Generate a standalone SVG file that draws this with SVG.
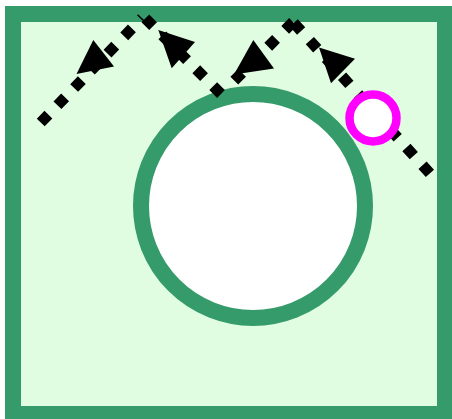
<svg xmlns="http://www.w3.org/2000/svg" width="452" height="419" viewBox="0 0 452 419">
<style>
.wall{fill:#e1fde1;stroke:#359b6a;stroke-width:16}
.mirror{fill:#ffffff;stroke:#359b6a;stroke-width:16}
.ray{fill:none;stroke:#000000;stroke-width:11;stroke-dasharray:11 13}
.head{fill:#000000;stroke:none}
.spot{fill:#ffffff;stroke:#ff00ff;stroke-width:8.5}
</style>
<g id="room"><rect class="wall" x="13" y="14" width="432" height="400"/></g>
<g id="sphere"><circle class="mirror" cx="253" cy="206" r="112"/></g>
<g id="connectors">
<line class="ray" x1="429.9" y1="173.4" x2="293" y2="22"/>
<line class="ray" x1="293" y1="22" x2="228" y2="87"/>
<line class="ray" x1="221" y1="94" x2="145.3" y2="18.3"/>
<line class="ray" x1="142" y1="18" x2="39" y2="124.3" stroke-dashoffset="9.5"/>
<polygon class="head" points="76.5,74 93.3,40 114,66.5"/>
<polygon class="head" points="158.3,30 195,42 171.7,68.3"/>
<polygon class="head" points="319,47.5 355,58.7 331,83.3"/>
<polygon class="head" points="234,74.5 253.3,40 274,68.5"/>
</g>
<g id="source"><circle class="spot" cx="373" cy="118" r="23.5"/></g>
</svg>
